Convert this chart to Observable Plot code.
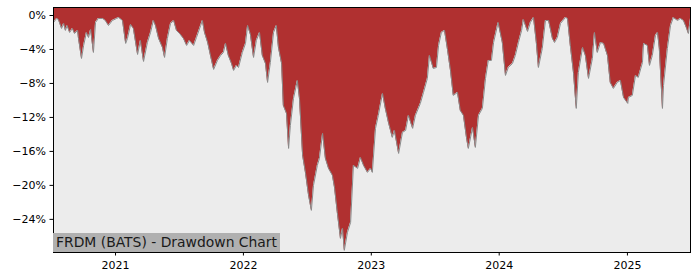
<!DOCTYPE html>
<html>
<head>
<meta charset="utf-8">
<script src="https://cdn.jsdelivr.net/npm/d3@7"></script>
<script src="https://cdn.jsdelivr.net/npm/@observablehq/plot@0.6"></script>
<style>
  html, body { margin: 0; padding: 0; background: #fff; }
  #wrap { position: relative; width: 700px; height: 280px; }
  #label {
    position: absolute; left: 53px; top: 233px; height: 19px;
    padding: 0 3px; background: #b0b0b0; color: #1a1a1a;
    font: 13.9px "DejaVu Sans", sans-serif; line-height: 19px; white-space: nowrap;
  }
</style>
</head>
<body>
<div id="wrap"><div id="label">FRDM (BATS) - Drawdown Chart</div></div>
<script>
const dates = ["2020-07-08","2020-07-17","2020-07-22","2020-07-31","2020-08-06","2020-08-11","2020-08-16","2020-08-23","2020-08-31","2020-09-06","2020-09-15","2020-09-17","2020-09-26","2020-10-02","2020-10-10","2020-10-16","2020-10-22","2020-10-30","2020-11-05","2020-11-13","2020-11-25","2020-12-03","2020-12-12","2020-12-23","2021-01-04","2021-01-10","2021-01-21","2021-01-30","2021-02-04","2021-02-13","2021-02-21","2021-03-05","2021-03-13","2021-03-22","2021-04-02","2021-04-11","2021-04-19","2021-04-25","2021-05-04","2021-05-15","2021-05-21","2021-05-29","2021-06-07","2021-06-16","2021-06-24","2021-07-03","2021-07-14","2021-07-23","2021-07-31","2021-08-12","2021-08-20","2021-09-01","2021-09-06","2021-09-12","2021-09-21","2021-09-29","2021-10-08","2021-10-19","2021-10-28","2021-11-05","2021-11-11","2021-11-19","2021-11-28","2021-12-04","2021-12-12","2021-12-18","2021-12-29","2022-01-07","2022-01-13","2022-01-21","2022-01-30","2022-02-07","2022-02-16","2022-02-24","2022-03-05","2022-03-11","2022-03-19","2022-03-28","2022-04-05","2022-04-11","2022-04-20","2022-04-25","2022-05-04","2022-05-10","2022-05-15","2022-05-24","2022-06-04","2022-06-10","2022-06-19","2022-06-27","2022-07-06","2022-07-14","2022-07-20","2022-07-31","2022-08-06","2022-08-15","2022-08-23","2022-09-01","2022-09-12","2022-09-18","2022-09-26","2022-10-05","2022-10-11","2022-10-16","2022-10-25","2022-11-03","2022-11-11","2022-11-23","2022-12-01","2022-12-10","2022-12-21","2022-12-30","2023-01-04","2023-01-13","2023-01-21","2023-02-02","2023-02-10","2023-02-19","2023-03-02","2023-03-08","2023-03-20","2023-03-31","2023-04-09","2023-04-17","2023-04-29","2023-05-07","2023-05-21","2023-05-30","2023-06-10","2023-06-16","2023-06-27","2023-07-06","2023-07-12","2023-07-20","2023-07-29","2023-08-06","2023-08-15","2023-08-23","2023-09-04","2023-09-12","2023-09-21","2023-09-30","2023-10-05","2023-10-17","2023-10-25","2023-11-03","2023-11-14","2023-11-23","2023-12-01","2023-12-10","2023-12-16","2023-12-27","2023-12-29","2024-01-10","2024-01-19","2024-01-27","2024-02-08","2024-02-16","2024-02-25","2024-03-05","2024-03-10","2024-03-22","2024-03-30","2024-04-08","2024-04-16","2024-04-22","2024-05-03","2024-05-12","2024-05-21","2024-06-01","2024-06-07","2024-06-15","2024-06-24","2024-07-08","2024-07-14","2024-07-22","2024-07-31","2024-08-08","2024-08-14","2024-08-26","2024-09-03","2024-09-12","2024-09-23","2024-09-29","2024-10-07","2024-10-16","2024-10-25","2024-11-05","2024-11-13","2024-11-22","2024-12-03","2024-12-12","2024-12-21","2025-01-02","2025-01-04","2025-01-15","2025-01-24","2025-02-01","2025-02-13","2025-02-16","2025-02-27","2025-03-05","2025-03-13","2025-03-22","2025-03-28","2025-04-02","2025-04-11","2025-04-14","2025-04-25","2025-05-04","2025-05-12","2025-05-24","2025-06-01","2025-06-10","2025-06-18","2025-06-24","2025-06-30"];

const drawdown = [-0.82,-0.35,-0.47,-1.53,-0.94,-1.76,-1.18,-2.0,-1.53,-2.12,-1.76,-2.59,-5.06,-3.53,-2.0,-2.59,-1.65,-4.35,-0.82,-0.35,-0.35,-0.59,-1.18,-0.59,-0.35,-0.24,-0.59,-3.29,-2.71,-1.06,-1.53,-4.59,-2.94,-5.41,-3.18,-2.0,-0.59,-1.18,-2.71,-3.76,-4.94,-2.71,-0.94,-0.59,-1.76,-2.12,-2.71,-3.53,-2.94,-3.53,-2.59,-1.18,-0.59,-2.0,-3.18,-4.71,-6.35,-5.29,-4.71,-4.35,-3.29,-4.71,-5.65,-6.47,-5.88,-6.12,-4.35,-3.29,-1.18,-2.24,-4.94,-2.94,-2.0,-4.71,-5.65,-7.88,-5.53,-2.0,-1.18,-3.76,-5.65,-10.59,-11.53,-15.65,-12.94,-9.76,-7.65,-9.76,-16.47,-18.47,-21.18,-22.94,-20.0,-17.65,-16.82,-13.88,-16.82,-18.0,-18.82,-20.24,-23.18,-26.24,-25.06,-27.65,-25.53,-24.35,-17.65,-18.0,-16.71,-17.65,-18.47,-18.0,-18.47,-13.29,-11.76,-9.18,-10.94,-12.59,-14.35,-13.53,-16.24,-13.76,-13.53,-11.76,-13.29,-11.76,-10.35,-9.06,-7.41,-4.71,-6.24,-6.12,-3.53,-2.0,-1.76,-3.88,-6.47,-9.41,-9.06,-11.18,-11.76,-14.47,-15.65,-13.18,-15.53,-11.76,-10.94,-7.41,-5.29,-5.29,-3.18,-1.18,-0.82,-3.18,-7.06,-6.12,-5.65,-4.71,-3.18,-1.76,-0.47,-1.88,-0.82,-0.24,-3.18,-6.12,-3.88,-0.59,-0.59,-2.71,-3.18,-2.59,-0.94,-0.24,-0.35,-3.53,-6.71,-10.94,-6.71,-3.76,-4.71,-7.41,-5.06,-2.0,-4.35,-3.18,-3.29,-4.71,-7.88,-8.59,-7.88,-7.65,-9.65,-10.35,-9.65,-9.41,-7.06,-7.29,-5.53,-3.29,-3.53,-5.88,-4.71,-2.35,-2.0,-3.88,-10.94,-8.24,-3.88,-1.18,-0.24,-0.59,-0.35,-0.59,-1.41,-2.12,-0.35];

const yTicks = [0, -4, -8, -12, -16, -20, -24];
const xTickYears = ["2021-01-01","2022-01-01","2023-01-01","2024-01-01","2025-01-01"];
const xDomain = ["2020-07-08","2025-06-30"];
const yDomain = [-27.9, 0.94];

const n = Math.min(dates.length, drawdown.length);
const data = d3.range(n).map(i => ({date: new Date(dates[i] + "T00:00:00Z"), dd: drawdown[i]}));

const fmtPct = d => (d < 0 ? "\u2212" : "") + Math.abs(d) + "%";

const chart = Plot.plot({
  width: 700,
  height: 280,
  marginLeft: 53,
  marginRight: 10,
  marginTop: 7,
  marginBottom: 28,
  style: {fontFamily: "DejaVu Sans, sans-serif", fontSize: "11px", color: "#000", background: "#fff"},
  x: {type: "utc", domain: xDomain.map(s => new Date(s + "T00:00:00Z"))},
  y: {domain: yDomain},
  marks: [
    Plot.frame({fill: "#ececec", stroke: null}),
    Plot.areaY(data, {x: "date", y1: "dd", y2: yDomain[1], fill: "#b03030", curve: "linear"}),
    Plot.lineY(data, {x: "date", y: "dd", stroke: "#8a8a8a", strokeWidth: 1}),
    Plot.frame({stroke: "#000", strokeWidth: 1}),
    Plot.axisY({ticks: yTicks, tickFormat: fmtPct, tickSize: 3.5, tickPadding: 4, label: null, fontSize: 11}),
    Plot.axisX({ticks: xTickYears.map(s => new Date(s + "T00:00:00Z")), tickFormat: d3.utcFormat("%Y"), tickSize: 3.5, tickPadding: 5, label: null, fontSize: 11})
  ]
});
document.getElementById("wrap").prepend(chart);
</script>
</body>
</html>
